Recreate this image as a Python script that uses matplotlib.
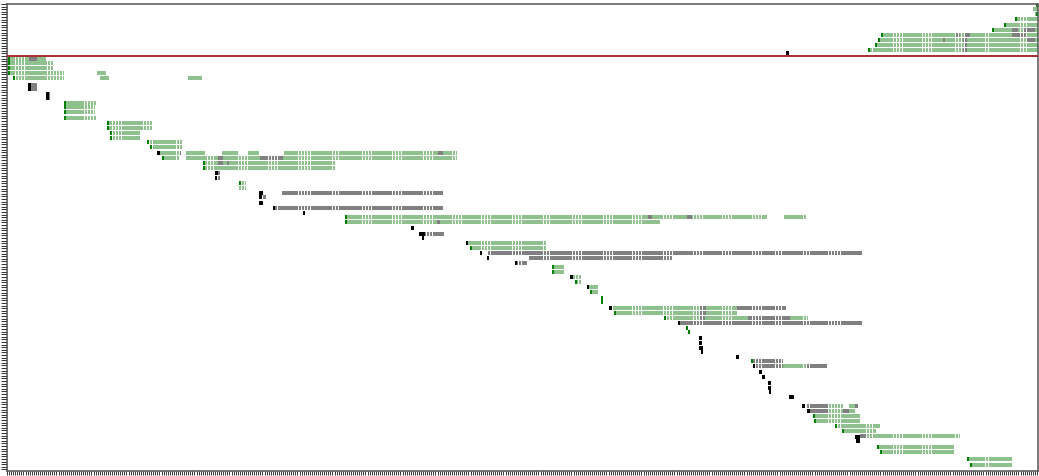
import numpy as np
import matplotlib
matplotlib.use("Agg")
import matplotlib.pyplot as plt

# lane position, start, end  (time on x, lanes grow downwards)
green_spans = [
    (10, 1033, 1038), (15, 1035, 1038), (20, 1015, 1038), (26, 1004, 1038),
    (31, 992, 1038), (36, 881, 1038), (41, 878, 1038), (46, 875, 1038),
    (51, 868, 1038),
    (60, 8, 46), (64, 8, 54), (69, 8, 54), (74, 8, 64), (79, 13, 64),
    (74, 97, 106), (79, 100, 109), (79, 188, 202),
    (104, 64, 97), (108, 64, 95), (113, 64, 95), (119, 64, 97),
    (124, 107, 153), (129, 107, 153), (134, 110, 140), (139, 110, 140),
    (143, 147, 183), (148, 150, 183),
    (154, 158, 180), (154, 185, 205), (154, 222, 238), (154, 248, 259),
    (154, 284, 457),
    (159, 162, 180), (159, 185, 457),
    (164, 203, 335), (169, 203, 335),
    (184, 239, 246), (189, 239, 246),
    (218, 345, 767), (218, 784, 806), (223, 345, 660),
    (244, 468, 546), (249, 470, 546),
    (254, 785, 808),
    (268, 552, 564), (273, 552, 564),
    (278, 573, 581), (283, 575, 581),
    (288, 589, 598), (293, 590, 598),
    (309, 612, 737), (309, 752, 760), (314, 614, 737),
    (319, 664, 808), (324, 740, 800),
    (367, 783, 807),
    (407, 828, 843), (407, 849, 858), (412, 828, 855),
    (417, 815, 860), (422, 815, 860), (427, 835, 880), (432, 842, 876),
    (437, 866, 960), (448, 877, 954), (453, 880, 954),
    (460, 967, 1012), (466, 970, 1012),
]

gray_spans = [
    (31, 1012, 1018), (31, 1023, 1035),
    (36, 955, 960), (36, 965, 970), (36, 1012, 1027),
    (41, 943, 945), (41, 963, 967), (41, 1027, 1035),
    (46, 965, 967), (51, 963, 967),
    (60, 29, 37),
    (86, 31, 37), (90, 31, 37), (95, 49, 51), (99, 49, 51),
    (154, 179, 181), (154, 438, 443),
    (159, 218, 223), (159, 260, 283),
    (164, 218, 223), (164, 227, 229),
    (174, 218, 220), (179, 218, 220),
    (194, 282, 443), (198, 263, 266), (209, 275, 443),
    (223, 437, 440), (218, 648, 652), (218, 687, 692),
    (235, 425, 444),
    (254, 487, 862), (259, 529, 673), (264, 517, 527),
    (309, 700, 706), (309, 737, 786), (314, 700, 706),
    (319, 700, 705), (319, 748, 790), (324, 680, 862),
    (362, 752, 783), (367, 754, 783), (367, 807, 827),
    (407, 807, 828), (407, 855, 858), (412, 810, 828), (412, 843, 849),
    (437, 860, 866),
]

black_spans = [
    (54, 786, 789),
    (86, 28, 31), (90, 28, 31), (95, 46, 49), (99, 46, 49),
    (154, 157, 160),
    (174, 215, 218), (179, 215, 217),
    (194, 259, 263), (198, 259, 262), (204, 259, 263),
    (209, 273, 275), (214, 303, 305),
    (229, 411, 414), (235, 419, 425), (239, 422, 424),
    (244, 466, 468), (254, 480, 482), (259, 487, 489), (264, 515, 517),
    (278, 570, 573), (288, 587, 589),
    (309, 609, 612), (324, 678, 680),
    (339, 699, 702), (344, 699, 702), (349, 699, 703), (353, 701, 703),
    (358, 736, 739), (367, 753, 755),
    (373, 759, 762), (378, 762, 765),
    (384, 768, 771), (389, 768, 771), (393, 769, 771),
    (398, 789, 794),
    (407, 802, 805), (412, 807, 810),
    (438, 855, 860), (442, 856, 860),
]

# task start markers (lane, time)
start_marks = [
    (6, 1036), (15, 1036), (20, 1015), (26, 1004), (31, 992), (36, 881),
    (41, 878), (46, 875), (51, 868),
    (60, 8), (64, 8), (69, 8), (74, 8), (79, 13),
    (104, 64), (108, 64), (113, 64), (119, 64),
    (124, 107), (129, 107), (134, 110), (139, 110),
    (143, 147), (148, 150),
    (159, 162), (164, 203), (169, 203), (184, 239),
    (218, 345), (223, 345), (249, 470),
    (268, 552), (273, 552), (283, 575), (293, 590),
    (299, 601), (303, 601), (314, 614), (319, 664),
    (329, 686), (333, 688), (362, 751),
    (417, 813), (422, 814), (427, 835), (432, 842),
    (448, 877), (453, 880), (460, 967), (466, 970),
]

# idle gaps shared by all lanes (start, end)
idle_windows = [
    (15, 25), (47, 62), (84, 97), (112, 121), (143, 153), (176, 185),
    (207, 215), (238, 248), (268, 278), (298, 310), (332, 340), (362, 372),
    (392, 403), (423, 434), (452, 462), (481, 491), (512, 522), (543, 551),
    (572, 582), (603, 612), (632, 642), (663, 672), (693, 703), (722, 733),
    (752, 762), (775, 783), (803, 810), (828, 840), (866, 872), (893, 902),
    (922, 932), (955, 965), (985, 990), (1020, 1027),
]

threshold = 57

fig = plt.figure(figsize=(10.39, 4.77), dpi=100)
ax = fig.add_axes([7 / 1039, 5 / 477, 1031 / 1039, 467 / 477])

bar_h = 4.5


def draw(spans, color, z):
    y = [s[0] for s in spans]
    left = [s[1] for s in spans]
    width = [s[2] - s[1] for s in spans]
    ax.barh(y, width, left=left, height=bar_h, color=color, linewidth=0, zorder=z)


draw(green_spans, "#8fc18f", 1)
draw(gray_spans, "#808080", 1.1)

# thin white cuts where the workers were idle
cuts = []
for a, b in idle_windows:
    cuts.extend(np.arange(a, b + 1, 3))
ax.vlines(cuts, 0, 480, colors="white", linewidth=0.7, zorder=1.5)

draw(black_spans, "black", 1.8)
ax.barh([m[0] for m in start_marks], 2.5, left=[m[1] - 0.5 for m in start_marks],
        height=bar_h, color="#008000", linewidth=0, zorder=1.9)

ax.axhline(threshold, color="#a52a2a", linewidth=1.4, zorder=3)

ax.set_xlim(7, 1038)
ax.set_ylim(472, 5)
ax.set_xticks(np.arange(7, 1038, 2.06))
ax.set_yticks(np.arange(5, 472, 2.6))
ax.set_xticklabels([])
ax.set_yticklabels([])
ax.tick_params(axis="x", length=3, width=0.7, color="#333333", direction="out")
ax.tick_params(axis="y", length=4, width=0.7, color="#333333", direction="out")
for sp in ax.spines.values():
    sp.set_color("#555555")
    sp.set_linewidth(1.1)

fig.savefig("out.png", dpi=100)
